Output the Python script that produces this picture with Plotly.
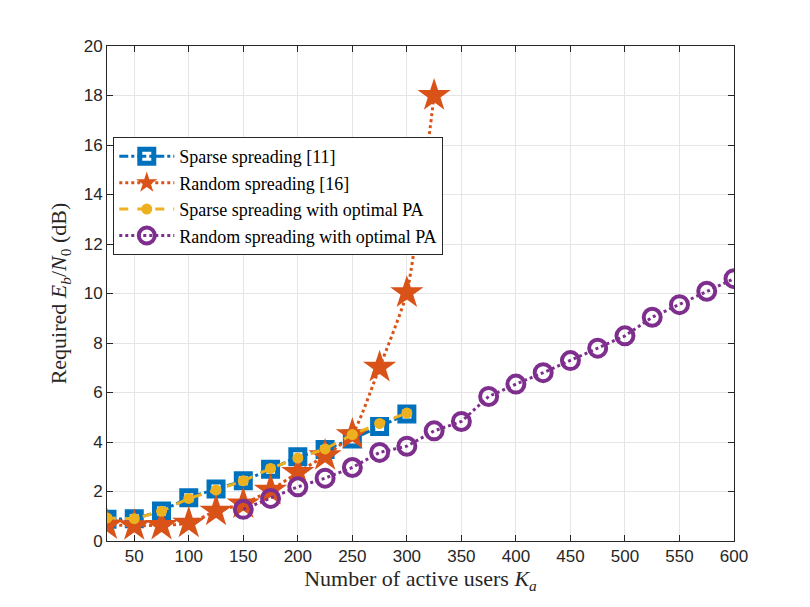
import plotly.graph_objects as go

# Number of active users
ka_sparse = [25, 50, 75, 100, 125, 150, 175, 200, 225, 250, 275, 300]
ka_random = [25, 50, 75, 100, 125, 150, 175, 200, 225, 250, 275, 300, 325]
ka_random_pa = [150, 175, 200, 225, 250, 275, 300, 325, 350, 375, 400,
                425, 450, 475, 500, 525, 550, 575, 600]

# Required Eb/N0 (dB)
eb_sparse = [0.88, 0.9, 1.21, 1.75, 2.1, 2.43, 2.9, 3.4, 3.7, 4.12, 4.63, 5.13]
eb_random = [0.65, 0.62, 0.63, 0.72, 1.21, 1.5, 2.05, 2.77, 3.45, 4.3, 7.02, 10.03, 18.0]
eb_sparse_pa = [0.93, 0.9, 1.2, 1.72, 2.06, 2.43, 2.93, 3.35, 3.72, 4.3, 4.75, 5.17]
eb_random_pa = [1.28, 1.72, 2.19, 2.54, 2.97, 3.58, 3.83, 4.45, 4.83, 5.84, 6.34,
                6.8, 7.29, 7.79, 8.29, 9.04, 9.55, 10.09, 10.6]

serif = "Liberation Serif"

fig = go.Figure()

fig.add_trace(go.Scatter(
    x=ka_sparse, y=eb_sparse, name="Sparse spreading [11]",
    mode="lines+markers",
    line=dict(color="#0072BD", width=3, dash="dashdot"),
    marker=dict(symbol="square-open", size=14, color="#0072BD", line=dict(width=5)),
))
fig.add_trace(go.Scatter(
    x=ka_random, y=eb_random, name="Random spreading [16]",
    mode="lines+markers",
    line=dict(color="#D95319", width=3, dash="dot", shape="spline", smoothing=0.5),
    marker=dict(symbol="star", size=25, color="#D95319"),
))
fig.add_trace(go.Scatter(
    x=ka_sparse, y=eb_sparse_pa, name="Sparse spreading with optimal PA",
    mode="lines+markers",
    line=dict(color="#EDB120", width=3, dash="dash"),
    marker=dict(symbol="circle", size=11, color="#EDB120"),
))
fig.add_trace(go.Scatter(
    x=ka_random_pa, y=eb_random_pa, name="Random spreading with optimal PA",
    mode="lines+markers",
    line=dict(color="#7E2F8E", width=3, dash="dot"),
    marker=dict(symbol="circle-open", size=17, color="#7E2F8E", line=dict(width=4)),
))

axis_common = dict(
    showgrid=True, gridcolor="#e5e5e5", gridwidth=1,
    showline=True, linecolor="#262626", linewidth=1, mirror="ticks",
    ticks="inside", ticklen=6, tickcolor="#262626",
    tickfont=dict(family="Liberation Sans", size=17, color="#262626"),
    zeroline=False,
)

fig.update_layout(
    width=810, height=607,
    margin=dict(l=99, r=84, t=38, b=74),
    paper_bgcolor="white", plot_bgcolor="white",
    xaxis=dict(
        range=[25, 600], tickvals=[50, 100, 150, 200, 250, 300, 350, 400, 450, 500, 550, 600],
        title=dict(text="Number of active users <i>K<sub>a</sub></i>",
                   font=dict(family=serif, size=22, color="#262626"), standoff=4),
        **axis_common,
    ),
    yaxis=dict(
        range=[0, 20], dtick=2,
        title=dict(text="Required <i>E<sub>b</sub></i>/<i>N</i><sub>0</sub> (dB)",
                   font=dict(family=serif, size=22, color="#262626"), standoff=10),
        **axis_common,
    ),
    legend=dict(
        x=0.01, y=0.816, xanchor="left", yanchor="top",
        bgcolor="white", bordercolor="#262626", borderwidth=1,
        font=dict(family=serif, size=18, color="black"),
        tracegroupgap=0, itemwidth=55,
    ),
    showlegend=True,
)

fig.write_html("out.html")
